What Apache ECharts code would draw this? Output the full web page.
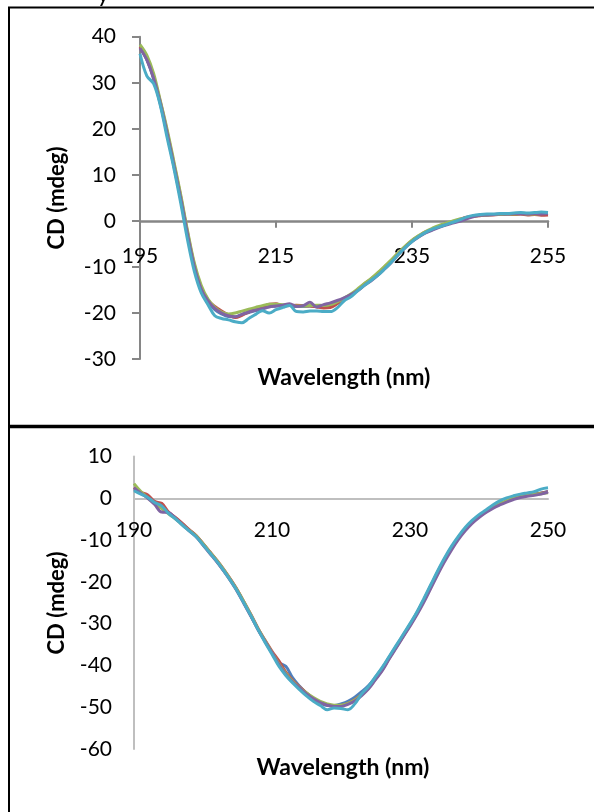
<!DOCTYPE html>
<html>
<head>
<meta charset="utf-8">
<script src="https://cdn.jsdelivr.net/npm/echarts@6/dist/echarts.min.js"></script>
<style>
  html, body { margin: 0; padding: 0; background: #fff; }
  #chart { width: 594px; height: 812px; }
</style>
</head>
<body>
<div id="chart"></div>
<script>
// upper panel, 195 - 255 nm, 1 nm steps
const topStart = 195;
const topBlue = [37.6, 35.0, 30.8, 25.3, 18.8, 11.8, 4.6, -3.2, -10.2, -15.0,
  -17.6, -19.3, -20.2, -20.8, -20.9, -20.3, -19.9, -19.5, -19.0, -18.6,
  -18.5, -18.3, -18.4, -18.6, -18.6, -18.5, -18.6, -18.7, -18.4, -17.7,
  -16.9, -16.1, -15.1, -13.9, -12.8, -11.6, -10.2, -8.8, -7.2, -5.7,
  -4.4, -3.4, -2.5, -1.9, -1.3, -0.8, -0.3, 0.2, 0.7, 1.0,
  1.2, 1.3, 1.4, 1.4, 1.5, 1.5, 1.5, 1.6, 1.5, 1.6, 1.6];
const topRed = [37.8, 35.2, 31.2, 25.8, 19.3, 12.3, 5.2, -2.6, -9.6, -14.4,
  -17.2, -18.6, -19.6, -20.4, -21.0, -20.5, -19.8, -19.2, -18.8, -18.1,
  -18.0, -18.5, -18.4, -18.3, -18.4, -18.5, -18.7, -18.9, -18.8, -18.0,
  -17.0, -16.2, -15.0, -13.7, -12.6, -11.4, -10.0, -8.6, -7.0, -5.6,
  -4.3, -3.3, -2.4, -1.8, -1.2, -0.7, -0.2, 0.3, 0.8, 1.0,
  1.1, 1.3, 1.3, 1.4, 1.5, 1.4, 1.5, 1.3, 1.4, 1.2, 1.3];
const topGreen = [38.3, 36.0, 32.0, 26.0, 19.8, 12.8, 5.6, -2.2, -9.2, -14.0,
  -17.0, -18.8, -19.8, -20.2, -20.0, -19.6, -19.2, -18.8, -18.4, -18.1,
  -18.1, -18.2, -18.3, -18.5, -18.5, -18.4, -18.3, -18.4, -18.2, -17.6,
  -16.8, -15.9, -14.8, -13.6, -12.5, -11.2, -9.8, -8.4, -6.9, -5.5,
  -4.2, -3.2, -2.3, -1.6, -1.0, -0.5, 0.0, 0.4, 0.7, 1.0,
  1.2, 1.3, 1.4, 1.4, 1.5, 1.5, 1.6, 1.5, 1.5, 1.6, 1.6];
const topPurple = [37.5, 35.0, 31.0, 25.5, 19.0, 12.0, 4.8, -3.0, -10.0, -14.8,
  -17.4, -19.0, -20.0, -20.6, -20.8, -20.3, -19.8, -19.4, -19.1, -18.7,
  -18.5, -18.3, -18.0, -18.6, -18.4, -17.7, -18.7, -18.2, -17.8, -17.3,
  -16.7, -16.0, -15.2, -14.0, -13.0, -11.8, -10.4, -9.0, -7.3, -5.8,
  -4.5, -3.5, -2.6, -2.0, -1.4, -0.9, -0.5, -0.1, 0.4, 0.9,
  1.2, 1.3, 1.4, 1.5, 1.5, 1.6, 1.6, 1.5, 1.6, 1.5, 1.6];
const topCyan = [36.3, 31.5, 29.8, 25.0, 18.0, 11.3, 3.8, -4.2, -11.0, -15.6,
  -18.2, -20.6, -21.2, -21.5, -21.9, -22.1, -21.2, -20.3, -19.5, -20.0,
  -19.3, -18.8, -18.4, -19.7, -19.8, -19.6, -19.6, -19.7, -19.7, -18.9,
  -17.4, -16.5, -15.2, -14.0, -12.9, -11.8, -10.4, -8.9, -7.3, -5.8,
  -4.5, -3.4, -2.5, -1.8, -1.3, -0.8, -0.3, 0.2, 0.8, 1.2,
  1.4, 1.5, 1.5, 1.6, 1.6, 1.7, 1.8, 1.7, 1.8, 1.9, 1.8];

// lower panel, 190 - 250 nm, 1 nm steps
const botStart = 190;
const botBlue = [2.2, 1.3, 0.2, -0.8, -2.0, -3.5, -4.7, -6.1, -7.6, -9.0,
  -11.0, -13.0, -15.0, -17.3, -19.6, -22.2, -25.2, -28.3, -31.4, -34.2,
  -37.0, -39.3, -40.2, -43.0, -45.0, -46.7, -48.0, -49.0, -49.6, -49.6,
  -49.2, -48.6, -47.6, -46.3, -44.8, -42.8, -40.6, -38.0, -35.4, -32.8,
  -30.2, -27.4, -24.3, -21.0, -17.7, -14.6, -11.8, -9.4, -7.3, -5.6,
  -4.2, -3.1, -2.1, -1.3, -0.6, 0.0, 0.5, 0.8, 1.0, 1.3, 1.6];
const botRed = [2.6, 1.4, 0.8, -0.8, -1.2, -3.3, -4.6, -6.0, -7.5, -8.9,
  -10.8, -12.8, -14.8, -17.0, -19.4, -22.0, -25.0, -28.0, -31.2, -34.0,
  -36.6, -38.9, -41.6, -43.6, -45.1, -46.6, -47.9, -48.9, -49.4, -49.7,
  -49.6, -49.1, -48.2, -46.9, -45.3, -43.2, -41.0, -38.2, -35.6, -33.0,
  -30.4, -27.6, -24.5, -21.2, -17.9, -14.8, -12.0, -9.6, -7.5, -5.8,
  -4.4, -3.2, -2.2, -1.4, -0.7, -0.1, 0.4, 0.7, 0.9, 1.2, 1.6];
const botGreen = [3.5, 1.6, 0.1, -1.2, -2.4, -3.7, -4.9, -6.3, -7.7, -9.0,
  -10.9, -12.9, -14.9, -17.1, -19.5, -22.1, -25.0, -28.1, -31.3, -34.1,
  -36.9, -39.6, -41.9, -43.8, -45.3, -46.6, -47.7, -48.6, -49.2, -49.5,
  -49.5, -49.1, -48.3, -47.0, -45.4, -43.2, -40.9, -38.2, -35.6, -33.0,
  -30.3, -27.5, -24.4, -21.1, -17.8, -14.7, -11.8, -9.4, -7.3, -5.6,
  -4.2, -3.1, -2.1, -1.3, -0.6, 0.0, 0.4, 0.7, 0.9, 1.1, 1.3];
const botPurple = [2.5, 1.2, 0.0, -1.5, -3.3, -3.4, -4.8, -6.3, -7.8, -9.2,
  -11.2, -13.2, -15.2, -17.4, -19.8, -22.4, -25.4, -28.4, -31.5, -34.3,
  -37.0, -39.8, -42.2, -44.0, -45.4, -46.8, -48.0, -48.9, -49.5, -49.8,
  -49.8, -49.3, -48.5, -47.2, -45.6, -43.4, -41.2, -38.4, -35.8, -33.2,
  -30.6, -27.9, -24.9, -21.6, -18.3, -15.2, -12.4, -9.9, -7.8, -6.0,
  -4.6, -3.4, -2.4, -1.6, -0.9, -0.3, 0.2, 0.5, 0.7, 1.0, 1.5];
const botCyan = [1.8, 1.0, 0.2, -1.0, -1.8, -3.6, -4.9, -6.4, -7.8, -9.2,
  -11.1, -13.1, -15.1, -17.3, -19.7, -22.3, -25.3, -28.3, -31.5, -34.5,
  -37.3, -40.2, -42.4, -44.2, -45.8, -47.3, -48.6, -49.6, -50.6, -50.2,
  -50.3, -50.6, -49.2, -46.8, -45.0, -42.7, -40.4, -37.8, -35.2, -32.6,
  -30.0, -27.2, -24.0, -20.7, -17.4, -14.3, -11.5, -9.1, -7.0, -5.3,
  -3.9, -2.8, -1.6, -0.6, 0.1, 0.6, 1.0, 1.3, 1.6, 2.2, 2.5];

const colors = ['#4F81BD', '#C0504D', '#9BBB59', '#8064A2', '#4BACC6'];
const fontFamily = 'Lato';

// pair each value with its wavelength
function toPoints(start, values) {
  return values.map((v, i) => [start + i, v]);
}

function makeSeries(list, start, idx) {
  return list.map((values, i) => ({
    type: 'line',
    xAxisIndex: idx,
    yAxisIndex: idx,
    data: toPoints(start, values),
    showSymbol: false,
    smooth: 0.35,
    lineStyle: { color: colors[i], width: 3 },
    itemStyle: { color: colors[i] }
  }));
}

const darkAxis = '#868686';
const lightAxis = '#BFBFBF';

// grid boxes; x axes are shifted up onto the zero line with offset
const topGrid = { left: 140, top: 36.7, width: 408, height: 322.3 };
const botGrid = { left: 134, top: 456.5, width: 414, height: 292.5 };
const topZeroOffset = -topGrid.height * 30 / 70;
const botZeroOffset = -botGrid.height * 60 / 70;

const chart = echarts.init(document.getElementById('chart'), null, { renderer: 'canvas' });

chart.setOption({
  animation: false,
  grid: [topGrid, botGrid],
  xAxis: [
    {
      gridIndex: 0, type: 'value', min: 195, max: 255, interval: 20,
      position: 'bottom', offset: topZeroOffset,
      axisLine: { onZero: false, lineStyle: { color: darkAxis, width: 2.5 } },
      axisTick: { show: true, length: 7, lineStyle: { color: darkAxis, width: 2 } },
      axisLabel: { margin: 25, color: '#000', fontSize: 21, fontFamily: fontFamily },
      splitLine: { show: false }
    },
    {
      gridIndex: 1, type: 'value', min: 190, max: 250, interval: 20,
      position: 'bottom', offset: botZeroOffset,
      axisLine: { onZero: false, lineStyle: { color: lightAxis, width: 2 } },
      axisTick: { show: false },
      axisLabel: { margin: 21, color: '#000', fontSize: 21, fontFamily: fontFamily },
      splitLine: { show: false }
    }
  ],
  yAxis: [
    {
      gridIndex: 0, type: 'value', min: -30, max: 40, interval: 10,
      axisLine: { show: true, onZero: false, lineStyle: { color: darkAxis, width: 2 } },
      axisTick: { show: true, length: 8, lineStyle: { color: darkAxis, width: 2 } },
      axisLabel: { margin: 24, color: '#000', fontSize: 21, fontFamily: fontFamily },
      splitLine: { show: false }
    },
    {
      gridIndex: 1, type: 'value', min: -60, max: 10, interval: 10,
      axisLine: { show: true, onZero: false, lineStyle: { color: lightAxis, width: 2 } },
      axisTick: { show: false },
      axisLabel: { margin: 22, color: '#000', fontSize: 21, fontFamily: fontFamily },
      splitLine: { show: false }
    }
  ],
  series: [
    ...makeSeries([topBlue, topRed, topGreen, topPurple, topCyan], topStart, 0),
    ...makeSeries([botBlue, botRed, botGreen, botPurple, botCyan], botStart, 1)
  ],
  graphic: [
    // table borders
    { type: 'line', shape: { x1: 8, y1: 7.5, x2: 594, y2: 7.5 }, style: { stroke: '#000', lineWidth: 2 } },
    { type: 'line', shape: { x1: 9, y1: 7, x2: 9, y2: 812 }, style: { stroke: '#000', lineWidth: 2 } },
    { type: 'line', shape: { x1: 8, y1: 426.5, x2: 594, y2: 426.5 }, style: { stroke: '#000', lineWidth: 3.5 } },
    // cut-off caption above the table
    { type: 'text', x: 97, y: 6, style: { text: 'y', fontSize: 24, fontFamily: fontFamily, fill: '#000', verticalAlign: 'bottom' } },
    // axis titles
    { type: 'text', x: 344, y: 378, style: { text: 'Wavelength (nm)', fontSize: 23, fontWeight: 'bold', fontFamily: fontFamily, fill: '#000', align: 'center', verticalAlign: 'middle' } },
    { type: 'text', x: 57, y: 198, rotation: Math.PI / 2, style: { text: 'CD (mdeg)', fontSize: 22, fontWeight: 'bold', fontFamily: fontFamily, fill: '#000', align: 'center', verticalAlign: 'middle' } },
    { type: 'text', x: 343, y: 768, style: { text: 'Wavelength (nm)', fontSize: 23, fontWeight: 'bold', fontFamily: fontFamily, fill: '#000', align: 'center', verticalAlign: 'middle' } },
    { type: 'text', x: 57, y: 603, rotation: Math.PI / 2, style: { text: 'CD (mdeg)', fontSize: 22, fontWeight: 'bold', fontFamily: fontFamily, fill: '#000', align: 'center', verticalAlign: 'middle' } }
  ]
});
</script>
</body>
</html>
